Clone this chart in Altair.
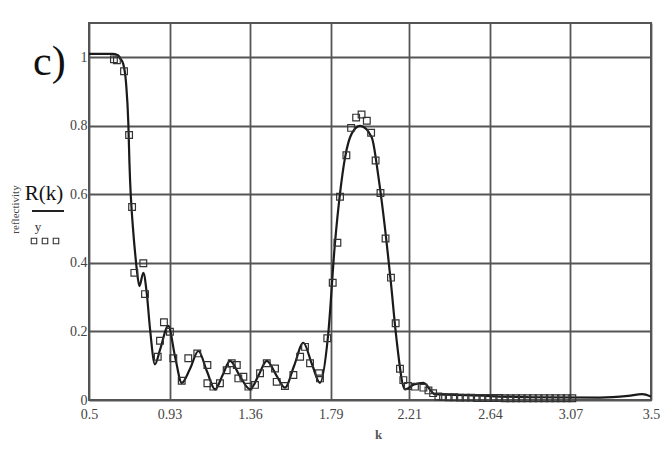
import altair as alt
import pandas as pd

# ---- data ----
k_line = [0.5, 0.623, 0.655, 0.666, 0.683, 0.698, 0.710, 0.716, 0.737, 0.746, 0.755,
          0.769, 0.790, 0.808, 0.826, 0.852, 0.879, 0.923, 0.96, 0.995, 1.04, 1.084,
          1.13, 1.173, 1.213, 1.253, 1.305, 1.360, 1.405, 1.449, 1.50, 1.546, 1.595,
          1.644, 1.69, 1.733, 1.776, 1.813, 1.840, 1.867, 1.903, 1.947, 2.009, 2.045,
          2.089, 2.112, 2.139, 2.187, 2.235, 2.285, 2.347, 2.524, 2.855, 3.228, 3.378,
          3.453, 3.5]
R_line = [1.01, 1.01, 1.006, 0.997, 0.98, 0.923, 0.807, 0.69, 0.486, 0.43, 0.381,
          0.332, 0.371, 0.313, 0.206, 0.104, 0.146, 0.216, 0.125, 0.05, 0.092, 0.143,
          0.083, 0.031, 0.072, 0.114, 0.07, 0.031, 0.072, 0.114, 0.072, 0.036, 0.10,
          0.167, 0.105, 0.05, 0.187, 0.458, 0.603, 0.708, 0.778, 0.80, 0.767, 0.651,
          0.458, 0.34, 0.19, 0.031, 0.045, 0.05, 0.017, 0.014, 0.008, 0.007, 0.012,
          0.017, 0.01]

k_pts = [0.633, 0.649, 0.687, 0.714, 0.730, 0.742, 0.790, 0.799, 0.867, 0.879, 0.900,
         0.932, 0.950, 0.995, 1.030, 1.078, 1.132, 1.132, 1.164, 1.199, 1.235, 1.262,
         1.289, 1.297, 1.324, 1.351, 1.386, 1.413, 1.449, 1.493, 1.502, 1.546, 1.591,
         1.627, 1.653, 1.680, 1.728, 1.733, 1.772, 1.801, 1.826, 1.840, 1.874, 1.899,
         1.926, 1.955, 1.983, 2.006, 2.030, 2.056, 2.083, 2.112, 2.137, 2.160, 2.178,
         2.202, 2.240, 2.285, 2.312, 2.337, 2.365,
         2.39, 2.42, 2.45, 2.48, 2.51, 2.54, 2.57, 2.60, 2.63, 2.66, 2.69, 2.72, 2.75,
         2.78, 2.81, 2.84, 2.87, 2.90, 2.93, 2.96, 2.99, 3.02, 3.05, 3.08]
y_pts = [0.994, 0.991, 0.959, 0.773, 0.563, 0.371, 0.399, 0.309, 0.126, 0.173, 0.227,
         0.199, 0.122, 0.056, 0.122, 0.136, 0.102, 0.049, 0.039, 0.049, 0.087, 0.107,
         0.102, 0.063, 0.068, 0.039, 0.044, 0.078, 0.107, 0.092, 0.053, 0.041, 0.073,
         0.126, 0.155, 0.107, 0.078, 0.063, 0.180, 0.342, 0.459, 0.593, 0.714, 0.794,
         0.824, 0.833, 0.815, 0.780, 0.699, 0.604, 0.471, 0.357, 0.224, 0.091, 0.058,
         0.041, 0.039, 0.036, 0.028, 0.020, 0.010,
         0.009, 0.008, 0.008, 0.007, 0.007, 0.007, 0.006, 0.006, 0.006, 0.006, 0.006,
         0.005, 0.005, 0.005, 0.005, 0.005, 0.005, 0.005, 0.005, 0.005, 0.005, 0.005,
         0.005, 0.005]

x_ticks = [0.5, 0.93, 1.36, 1.79, 2.21, 2.64, 3.07, 3.5]
x_tick_labels = ["0.5", "0.93", "1.36", "1.79", "2.21", "2.64", "3.07", "3.5"]
y_ticks = [0, 0.2, 0.4, 0.6, 0.8, 1]

SERIF = "Liberation Serif"

line_df = pd.DataFrame({"k": k_line, "R": R_line})
pts_df = pd.DataFrame({"k": k_pts, "y": y_pts})

label_map = "{" + ", ".join(f"'{v}': '{s}'" for v, s in zip(x_ticks, x_tick_labels)) + "}"

xscale = alt.Scale(domain=[0.5, 3.5], nice=False, zero=False)
yscale = alt.Scale(domain=[0, 1.1], nice=False)

xaxis = alt.Axis(values=x_ticks, labelExpr=f"{label_map}[toString(datum.value)]",
                 title="k", titleFont=SERIF,
                 titleFontSize=13, titleFontWeight="bold", titleColor="#555",
                 titleX=289, titleY=38, titleBaseline="alphabetic",
                 labelPadding=7, labelFlush=False)
yaxis = alt.Axis(values=y_ticks, format="~g", title="reflectivity", titleFont=SERIF,
                 titleFontSize=11, titleFontWeight="normal", titleColor="#444",
                 titleX=-74, titleY=186, titleAngle=-90, titleAlign="center",
                 titleBaseline="middle", labelPadding=2)

line = alt.Chart(line_df).mark_line(color="#1a1a1a", strokeWidth=2.2,
                                    interpolate="monotone").encode(
    x=alt.X("k:Q", scale=xscale, axis=xaxis),
    y=alt.Y("R:Q", scale=yscale, axis=yaxis),
)

pts = alt.Chart(pts_df).mark_point(shape="square", filled=False, color="#333",
                                   strokeWidth=1.2, size=45, opacity=1).encode(
    x=alt.X("k:Q", scale=xscale),
    y=alt.Y("y:Q", scale=yscale),
)

one = pd.DataFrame({"a": [0]})

label_c = alt.Chart(one).mark_text(text="c)", font=SERIF, fontSize=42,
                                   align="left", baseline="alphabetic",
                                   color="#111").encode(
    x=alt.value(-56), y=alt.value(52))

label_R = alt.Chart(one).mark_text(text="R(k)", font=SERIF, fontSize=21,
                                   align="center", baseline="alphabetic",
                                   color="#111").encode(
    x=alt.value(-45), y=alt.value(177))

underline = alt.Chart(one).mark_rule(color="#222", strokeWidth=2).encode(
    x=alt.value(-57), x2=alt.value(-25), y=alt.value(188))

label_y = alt.Chart(one).mark_text(text="y", font=SERIF, fontSize=13,
                                   align="center", baseline="alphabetic",
                                   color="#333").encode(
    x=alt.value(-51), y=alt.value(208))

legend_sq = []
for xv in (-55, -44, -33):
    legend_sq.append(
        alt.Chart(one).mark_point(shape="square", filled=False, color="#333",
                                  strokeWidth=1.1, size=30, opacity=1).encode(
            x=alt.value(xv), y=alt.value(218)))

chart = alt.layer(line, pts, label_c, label_R, underline, label_y, *legend_sq).properties(
    width=562, height=377, autosize="none",
    padding={"left": 81, "top": 15, "right": 10, "bottom": 50},
).configure_view(
    stroke="#555", strokeWidth=2
).configure_axis(
    grid=True, gridColor="#555", gridWidth=1.8, gridOpacity=1,
    ticks=False, domain=False,
    labelFont=SERIF, labelFontSize=14, labelColor="#444",
)

chart.save("out.html", embed_options={"renderer": "svg", "actions": False})
